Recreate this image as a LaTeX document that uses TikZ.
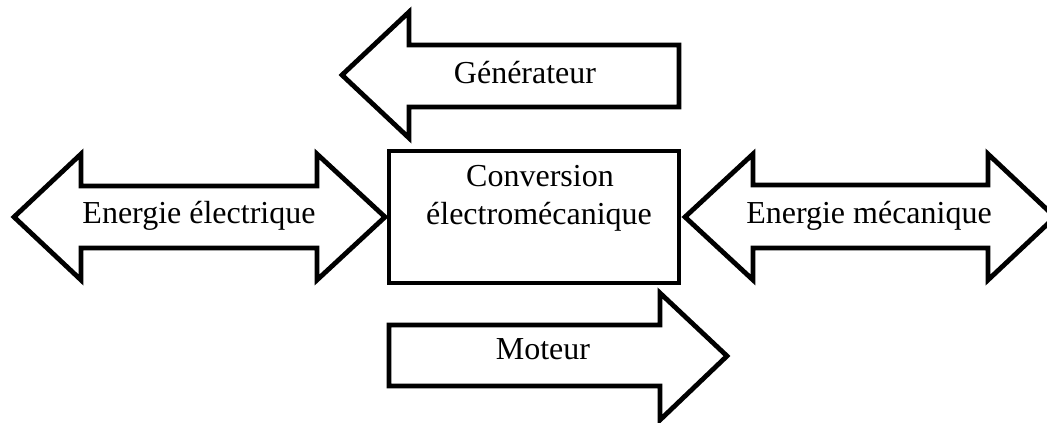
\documentclass[tikz,border=0pt]{standalone}
\usepackage{fontspec}
\setmainfont{Liberation Serif}
\begin{document}
\begin{tikzpicture}[x=1pt,y=-1pt,
  arrowshape/.style={draw=black,line width=4.8pt,line join=miter,fill=white},
  lbl/.style={inner sep=0pt,anchor=base,font=\fontsize{32}{39}\selectfont}]
\useasboundingbox (0,0) rectangle (1047,423);
\clip (0,0) rectangle (1047,423);
% top arrow (Generateur)
\draw[arrowshape] (342,75) -- (409,12) -- (409,45) -- (679,45) -- (679,107) -- (409,107) -- (409,138) -- cycle;
% left double arrow
\draw[arrowshape] (14,217) -- (81,154) -- (81,186) -- (317,186) -- (317,154) -- (385,217) -- (317,280) -- (317,248) -- (81,248) -- (81,280) -- cycle;
% right double arrow
\draw[arrowshape] (685,217) -- (753,154) -- (753,185) -- (988,185) -- (988,154) -- (1055,217) -- (988,280) -- (988,248) -- (753,248) -- (753,280) -- cycle;
% bottom arrow (Moteur)
\draw[arrowshape] (389,325) -- (660,325) -- (660,293) -- (727,356) -- (660,420) -- (660,386) -- (389,386) -- cycle;
% central box
\node[draw=black,line width=4.5pt,minimum width=290pt,minimum height=132pt,inner sep=0pt] (conv) at (534,217) {};
% labels
\node[lbl] (gen) at (525,83) {Générateur};
\node[lbl] (elec) at (199,223) {Energie électrique};
\node[lbl] (meca) at (869,223) {Energie mécanique};
\node[lbl] (conv1) at (540,186) {Conversion};
\node[lbl] (conv2) at (539,224) {électromécanique};
\node[lbl] (mot) at (543,359) {Moteur};
\end{tikzpicture}
\end{document}
